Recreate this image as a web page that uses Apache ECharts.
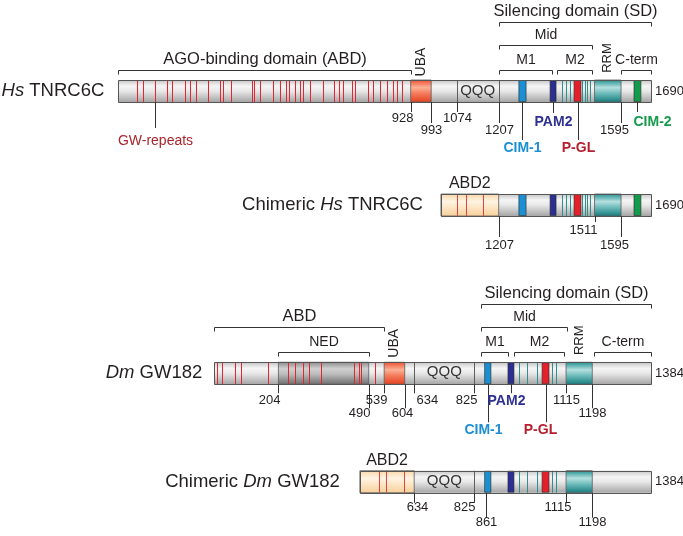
<!DOCTYPE html>
<html><head><meta charset="utf-8">
<script src="https://cdn.jsdelivr.net/npm/echarts@6/dist/echarts.min.js"></script>
<style>html,body{margin:0;padding:0;background:#fff}#c{width:683px;height:536px}</style>
</head><body><div id="c"></div>
<script>
// ================= DATA (amino-acid positions) =================
const rowNames = ['Hs TNRC6C', 'Chimeric Hs TNRC6C', 'Dm GW182', 'Chimeric Dm GW182'];

// Hs TNRC6C
const hsLength = 1690;
const hsGW = [59, 80, 117, 154, 170, 212, 228, 247, 286, 323, 334, 357, 424, 431, 450, 493, 514, 533, 543, 561, 577, 586, 609, 649, 685, 702, 714, 741, 751, 794, 810, 831, 852, 871, 884, 900];
const hsUBA = [928, 993];
const hsQQQ = [1074, 1207];
const hsRRM = [1511, 1595];
const hsMotifNames = ['CIM-1', 'PAM2', 'P-GL', 'CIM-2'];
const hsMotifStart = [1271, 1370, 1446, 1636];
const hsMotifEnd = [1294, 1389, 1468, 1658];
const hsTealLines = [1408, 1421, 1433, 1472, 1481, 1488, 1497];
const hsTicks = [928, 993, 1074, 1207, 1595];
const hsBracketNames = ['AGO-binding domain (ABD)', 'Silencing domain (SD)', 'Mid', 'M1', 'M2', 'C-term'];
const hsBracketStart = [1, 1207, 1207, 1207, 1392, 1595];
const hsBracketEnd = [928, 1690, 1503, 1376, 1503, 1690];

// Chimeric Hs TNRC6C (drawn on the Hs scale)
const chHsABD2 = [1024, 1207];
const chHsGW = [1075, 1102, 1158];
const chHsTicks = [1207, 1511, 1595];

// Dm GW182
const dmLength = 1384;
const dmGW = [9, 24, 66, 85, 171, 234, 257, 282, 301, 339, 443, 458, 466, 510];
const dmNED = [204, 490];
const dmUBA = [539, 604];
const dmQQQ = [634, 825];
const dmRRM = [1115, 1198];
const dmMotifNames = ['CIM-1', 'PAM2', 'P-GL'];
const dmMotifStart = [857, 931, 1039];
const dmMotifEnd = [877, 950, 1061];
const dmTealLines = [966, 991, 1023, 1070, 1083];
const dmTicks = [204, 490, 539, 604, 634, 825, 1115, 1198];
const dmBracketNames = ['ABD', 'NED', 'Silencing domain (SD)', 'Mid', 'M1', 'M2', 'C-term'];
const dmBracketStart = [1, 204, 845, 845, 845, 950, 1203];
const dmBracketEnd = [539, 490, 1384, 1118, 931, 1108, 1384];

// Chimeric Dm GW182 (drawn on the Dm scale)
const chDmABD2 = [462, 634];
const chDmGW = [524, 544, 602];
const chDmTicks = [634, 825, 861, 1115, 1198];

// ================= STYLE / LAYOUT =================
const FONT = "'Liberation Sans', Arial, Helvetica, sans-serif";
const INK = '#231f20';
const H = 11;
const GW_COLOR = '#e2262f';
const TEAL = '#2f8f8f';
const MOTIF = {
  'CIM-1': { box: '#1b8fd2', label: '#1b8fd2' },
  'PAM2': { box: '#2b2f8f', label: '#2e3192' },
  'P-GL': { box: '#e3212b', label: '#b51f2e' },
  'CIM-2': { box: '#139a4a', label: '#139a4a' }
};
const GRAD = {
  gray: [[0, '#c6c6c6'], [0.28, '#f5f5f5'], [0.5, '#e8e8e8'], [1, '#a6a6a6']],
  ned: [[0, '#8a8a8a'], [0.3, '#d0d0d0'], [0.55, '#bababa'], [1, '#6c6c6c']],
  uba: [[0, '#ee4e2e'], [0.35, '#fbb196'], [0.6, '#f47c5c'], [1, '#e4401f']],
  rrm: [[0, '#1d8f8f'], [0.35, '#b5e0df'], [0.6, '#6fbcbc'], [1, '#157a7b']],
  abd2: [[0, '#fad6a6'], [0.35, '#fff4e4'], [0.6, '#fde6c6'], [1, '#f7cf98']]
};
// [line length, label offset below bar, align, dx]
const tickLayout = [
  { 928: [10, 16, 'right', 2], 993: [21, 28, 'center', 0], 1074: [10, 16, 'center', 0], 1207: [21, 28, 'center', 0], 1595: [21, 28, 'center', -7] },
  { 1207: [21, 29, 'center', 0], 1511: [6, 14, 'right', 2], 1595: [21, 29, 'center', -7] },
  { 204: [9, 16, 'right', 2], 490: [24, 29, 'right', 1], 539: [9, 16, 'right', 3], 604: [24, 29, 'center', -3], 634: [9, 16, 'left', 2], 825: [9, 16, 'right', 3], 1115: [9, 16, 'center', 0], 1198: [24, 29, 'center', 0] },
  { 634: [10, 15, 'center', 3], 825: [10, 15, 'right', 1], 861: [25, 30, 'center', 0], 1115: [10, 15, 'right', 5], 1198: [25, 30, 'center', 0] }
];
const motifLayout = [
  { 'CIM-1': [38, 46, 'center', 0], 'PAM2': [11, 20, 'center', 0], 'P-GL': [38, 46, 'center', 0], 'CIM-2': [10, 20, 'left', -4] },
  {},
  { 'CIM-1': [38, 46, 'center', -5], 'PAM2': [9, 17, 'center', -5], 'P-GL': [38, 46, 'center', -6] }
];
const bracketLevel = [
  { 'AGO-binding domain (ABD)': 0, 'Silencing domain (SD)': 2, 'Mid': 1, 'M1': 0, 'M2': 0, 'C-term': 0 },
  {},
  { 'ABD': 1, 'NED': 0, 'Silencing domain (SD)': 2, 'Mid': 1, 'M1': 0, 'M2': 0, 'C-term': 0 }
];
const LEVEL_DY = [-10, -35, -58];
const BIG = { 'AGO-binding domain (ABD)': 1, 'Silencing domain (SD)': 1, 'ABD': 1 };
const NAME_GAP = [14, 18, 12, 20];

function richName(s) { return s.replace(/\b(Hs|Dm)\b/, '{i|$1}'); }
function lg(stops) { return new echarts.graphic.LinearGradient(0, 0, 0, 1, stops.map(s => ({ offset: s[0], color: s[1] }))); }
function txt(x, y, text, o) {
  o = o || {};
  const st = { text: text, x: 0, y: 0, fill: o.color || INK, fontSize: o.size || 13, fontFamily: FONT,
    fontWeight: o.weight || 'normal', fontStyle: 'normal', align: o.align || 'center', verticalAlign: 'middle' };
  if (o.rich) st.rich = o.rich;
  return { type: 'text', x: x, y: y, rotation: o.rot || 0, style: st };
}
const crisp = v => Math.round(v) + 0.5;

// ================= ELEMENT LISTS =================
function buildRow(E, row, gRow, cfg) {
  const start = cfg.start, end = cfg.end;
  E.push({ k: 'name', row, x: start, text: richName(rowNames[gRow]), gap: NAME_GAP[gRow] });
  E.push({ k: 'seg', row, x0: start, x1: end, g: 'gray' });
  (cfg.segs || []).forEach(s => E.push({ k: 'seg', row, x0: s[0][0], x1: s[0][1], g: s[1], edge: true }));
  (cfg.gw || []).forEach(x => E.push({ k: 'vline', row, x, color: cfg.gwColor || GW_COLOR }));
  (cfg.dark || []).forEach(x => E.push({ k: 'vline', row, x, color: '#5e5e5e' }));
  (cfg.teal || []).forEach(x => E.push({ k: 'vline', row, x, color: TEAL }));
  (cfg.motifs || []).forEach(m => E.push({ k: 'box', row, x0: m[1], x1: m[2], color: MOTIF[m[0]].box }));
  E.push({ k: 'outline', row, x0: start, x1: end });
  (cfg.ticks || []).forEach(t => { const L = tickLayout[gRow][t]; E.push({ k: 'tick', row, x: t, text: String(t), len: L[0], off: L[1], align: L[2], dx: L[3] }); });
  (cfg.callouts || []).forEach(m => { const L = motifLayout[gRow][m[0]]; E.push({ k: 'tick', row, x: (m[1] + m[2]) / 2, text: m[0], len: L[0], off: L[1], align: L[2], dx: L[3], color: MOTIF[m[0]].label, size: 14, weight: 'bold' }); });
  (cfg.brackets || []).forEach(b => E.push({ k: 'bracket', row, x0: b[1], x1: b[2], text: b[0], lvl: bracketLevel[gRow][b[0]], big: !!BIG[b[0]] }));
  (cfg.labels || []).forEach(l => E.push(Object.assign({ k: 'label', row }, l)));
  E.push({ k: 'end', row, x: end, text: String(end) });
}

const hsMotifs = hsMotifNames.map((m, i) => [m, hsMotifStart[i], hsMotifEnd[i]]);
const dmMotifs = dmMotifNames.map((m, i) => [m, dmMotifStart[i], dmMotifEnd[i]]);
const hsBrackets = hsBracketNames.map((b, i) => [b, hsBracketStart[i], hsBracketEnd[i]]);
const dmBrackets = dmBracketNames.map((b, i) => [b, dmBracketStart[i], dmBracketEnd[i]]);
const mid = a => (a[0] + a[1]) / 2;

const EA = [], EB = [];
buildRow(EA, 0, 0, {
  start: 1, end: hsLength, segs: [[hsUBA, 'uba'], [hsRRM, 'rrm']], gw: hsGW, dark: hsQQQ, teal: hsTealLines,
  motifs: hsMotifs, ticks: hsTicks, callouts: hsMotifs, brackets: hsBrackets,
  labels: [
    { x: mid(hsUBA), dy: -H - 18, text: 'UBA', size: 14, rot: Math.PI / 2 },
    { x: mid(hsRRM), dy: -H - 22, text: 'RRM', size: 13, rot: Math.PI / 2 },
    { x: mid(hsQQQ), dy: 0, text: 'QQQ', size: 15, color: '#333' }
  ]
});
EA.push({ k: 'tick', row: 0, x: hsGW[2], text: 'GW-repeats', len: 26, off: 39, align: 'center', dx: 0, color: '#a8262c', size: 14 });
buildRow(EA, 1, 1, {
  start: chHsABD2[0], end: hsLength, segs: [[chHsABD2, 'abd2'], [hsRRM, 'rrm']], gw: chHsGW, gwColor: '#e0443e', teal: hsTealLines,
  motifs: hsMotifs, ticks: chHsTicks,
  labels: [{ x: mid(chHsABD2), dy: -H - 10, text: 'ABD2', size: 16 }]
});
buildRow(EB, 0, 2, {
  start: 1, end: dmLength, segs: [[dmNED, 'ned'], [dmUBA, 'uba'], [dmRRM, 'rrm']], gw: dmGW, dark: dmQQQ, teal: dmTealLines,
  motifs: dmMotifs, ticks: dmTicks, callouts: dmMotifs, brackets: dmBrackets,
  labels: [
    { x: mid(dmUBA), dy: -H - 19, text: 'UBA', size: 14, rot: Math.PI / 2 },
    { x: mid(dmRRM), dy: -H - 22, text: 'RRM', size: 13, rot: Math.PI / 2 },
    { x: mid(dmQQQ), dy: -1, text: 'QQQ', size: 15, color: '#333' }
  ]
});
buildRow(EB, 1, 3, {
  start: chDmABD2[0], end: dmLength, segs: [[chDmABD2, 'abd2'], [dmRRM, 'rrm']], gw: chDmGW, gwColor: '#e0443e', dark: [dmQQQ[1]], teal: dmTealLines,
  motifs: dmMotifs, ticks: chDmTicks,
  labels: [
    { x: mid(chDmABD2), dy: -H - 10, text: 'ABD2', size: 16 },
    { x: mid(dmQQQ), dy: -1, text: 'QQQ', size: 15, color: '#333' }
  ]
});

// ================= RENDER =================
function rend(E) {
  return function (params, api) {
    const e = E[params.dataIndex];
    const p = x => api.coord([x, e.row]);
    const c = p(e.x0 != null ? e.x0 : e.x);
    const cy = c[1], top = cy - H, bot = cy + H;
    switch (e.k) {
      case 'seg': {
        const x1 = p(e.x1)[0];
        return { type: 'rect', shape: { x: c[0], y: top, width: x1 - c[0], height: 2 * H },
          style: { fill: lg(GRAD[e.g]), stroke: e.edge ? '#5c5c5c' : null, lineWidth: 0.8 } };
      }
      case 'outline': {
        const x1 = p(e.x1)[0];
        return { type: 'rect', shape: { x: crisp(c[0]), y: Math.round(top) + 0.5, width: Math.round(x1 - c[0]), height: 2 * H },
          style: { fill: null, stroke: '#555', lineWidth: 1 } };
      }
      case 'vline': {
        const x = crisp(c[0]);
        return { type: 'line', shape: { x1: x, y1: top, x2: x, y2: bot }, style: { stroke: e.color, lineWidth: 1 } };
      }
      case 'box': {
        const x1 = p(e.x1)[0];
        return { type: 'rect', shape: { x: c[0], y: top + 0.5, width: x1 - c[0], height: 2 * H - 1 },
          style: { fill: e.color, stroke: '#2a2a2a', lineWidth: 0.6 } };
      }
      case 'tick': {
        const x = crisp(c[0]);
        return { type: 'group', children: [
          { type: 'line', shape: { x1: x, y1: bot, x2: x, y2: bot + e.len }, style: { stroke: '#333', lineWidth: 1 } },
          txt(x + e.dx, bot + e.off, e.text, { align: e.align, color: e.color, size: e.size || 13, weight: e.weight })
        ] };
      }
      case 'bracket': {
        const x0 = crisp(c[0]), x1 = crisp(p(e.x1)[0]);
        const y = Math.round(top + LEVEL_DY[e.lvl]) + 0.5;
        return { type: 'group', children: [
          { type: 'polyline', shape: { points: [[x0, y + 4], [x0, y], [x1, y], [x1, y + 4]] }, style: { stroke: '#333', fill: null, lineWidth: 1 } },
          txt((x0 + x1) / 2, y - (e.big ? 11 : 10), e.text, { size: e.big ? 16.5 : 14 })
        ] };
      }
      case 'label':
        return txt(c[0] + (e.dx || 0), cy + e.dy, e.text, { size: e.size, rot: e.rot, color: e.color });
      case 'name':
        return txt(c[0] - e.gap, cy, e.text, { size: 18.5, align: 'right',
          rich: { i: { fontStyle: 'italic', fontSize: 18.5, fontFamily: FONT, fill: INK } } });
      case 'end':
        return txt(c[0] + 4, cy, e.text, { size: 13, align: 'left' });
    }
    return null;
  };
}

const chart = echarts.init(document.getElementById('c'), null, { renderer: 'canvas' });
chart.setOption({
  animation: false,
  backgroundColor: '#fff',
  grid: [
    { left: 118, right: 32, top: 34, height: 228 },
    { left: 214, right: 32, top: 319, height: 224 }
  ],
  xAxis: [
    { gridIndex: 0, type: 'value', min: 0, max: hsLength, show: false },
    { gridIndex: 1, type: 'value', min: 0, max: dmLength, show: false }
  ],
  yAxis: [
    { gridIndex: 0, type: 'category', data: rowNames.slice(0, 2), inverse: true, show: false },
    { gridIndex: 1, type: 'category', data: rowNames.slice(2), inverse: true, show: false }
  ],
  series: [
    { type: 'custom', xAxisIndex: 0, yAxisIndex: 0, clip: false, silent: true, renderItem: rend(EA),
      encode: { x: 0, y: 1 }, data: EA.map(e => [e.x0 != null ? e.x0 : e.x, e.row]) },
    { type: 'custom', xAxisIndex: 1, yAxisIndex: 1, clip: false, silent: true, renderItem: rend(EB),
      encode: { x: 0, y: 1 }, data: EB.map(e => [e.x0 != null ? e.x0 : e.x, e.row]) }
  ]
});
</script></body></html>
